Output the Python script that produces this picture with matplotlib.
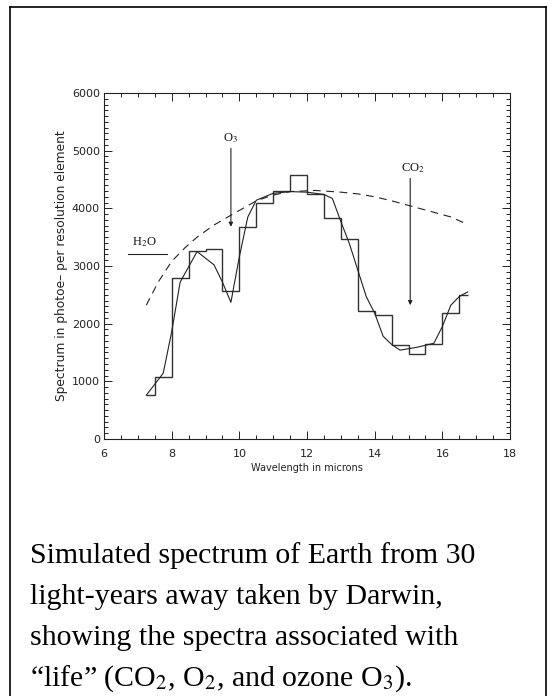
import matplotlib
matplotlib.use('Agg')
import matplotlib.pyplot as plt
from matplotlib.ticker import MultipleLocator

# binned spectrum (step histogram), edges and levels
bin_edges = [7.25, 7.5, 8.0, 8.5, 9.0, 9.5, 10.0, 10.5, 11.0, 11.5, 12.0,
             12.5, 13.0, 13.5, 14.0, 14.5, 15.0, 15.5, 16.0, 16.5, 16.75]
bin_vals = [770, 1080, 2790, 3260, 3290, 2560, 3670, 4100, 4300, 4580,
            4250, 3830, 3460, 2220, 2150, 1630, 1470, 1650, 2190, 2500]

# full resolution spectrum
wl = [7.25, 7.75, 8.0, 8.25, 8.75, 9.25, 9.5, 9.75, 10.0, 10.25, 10.5,
      11.0, 11.5, 12.0, 12.5, 12.75, 13.0, 13.25, 13.5, 13.75, 14.0, 14.25,
      14.5, 14.75, 15.25, 15.75, 16.0, 16.25, 16.5, 16.75]
spec = [760, 1140, 1860, 2720, 3250, 3020, 2720, 2370, 3160, 3850, 4140,
        4260, 4290, 4280, 4240, 4170, 3770, 3390, 2930, 2470, 2180, 1780,
        1640, 1540, 1590, 1660, 1950, 2320, 2470, 2550]

# continuum (no absorption), dashed
wl_cont = [7.25, 7.6, 8.0, 8.4, 8.75, 9.25, 9.75, 10.5, 11.0, 11.5, 12.25,
           13.0, 13.5, 14.0, 14.5, 15.0, 15.5, 16.25, 16.75]
cont = [2320, 2720, 3080, 3320, 3500, 3710, 3880, 4130, 4230, 4290, 4310,
        4280, 4250, 4200, 4130, 4050, 3970, 3850, 3720]

caption = ["Simulated spectrum of Earth from 30",
           "light-years away taken by Darwin,",
           "showing the spectra associated with",
           "\u201clife\u201d (CO$_2$, O$_2$, and ozone O$_3$)."]

fig = plt.figure(figsize=(5.53, 6.96), dpi=100)
ax = fig.add_axes([0.1881, 0.3693, 0.7342, 0.4971])

ax.stairs(bin_vals, bin_edges, color='#333333', lw=1.0, baseline=None)
ax.plot(wl, spec, color='#222222', lw=0.8)
ax.plot(wl_cont, cont, color='#222222', lw=0.8, ls=(0, (7, 5)))

# line markers
serif = dict(fontsize=9, family='Liberation Serif', math_fontfamily='stix',
             ha='center', va='center', color='#111111')
ax.annotate('', xy=(9.75, 3680), xytext=(9.75, 5040),
            arrowprops=dict(arrowstyle='-|>', color='#222222', lw=0.8,
                            mutation_scale=6, shrinkA=0, shrinkB=0))
ax.text(9.75, 5220, 'O$_3$', **serif)
ax.annotate('', xy=(15.05, 2320), xytext=(15.05, 4520),
            arrowprops=dict(arrowstyle='-|>', color='#222222', lw=0.8,
                            mutation_scale=6, shrinkA=0, shrinkB=0))
ax.text(15.12, 4690, 'CO$_2$', **serif)
ax.plot([6.7, 7.85], [3210, 3210], color='#222222', lw=0.8)
ax.text(7.2, 3420, 'H$_2$O', **serif)

ax.set_xlim(6, 18)
ax.set_ylim(0, 6000)
ax.xaxis.set_major_locator(MultipleLocator(2))
ax.xaxis.set_minor_locator(MultipleLocator(0.5))
ax.yaxis.set_major_locator(MultipleLocator(1000))
ax.yaxis.set_minor_locator(MultipleLocator(100))
ax.tick_params(which='both', direction='in', top=True, right=True,
               labelsize=8, colors='#222222', width=0.7)
ax.tick_params(axis='x', pad=7)
ax.tick_params(axis='y', pad=3)
ax.tick_params(which='major', length=6)
ax.tick_params(which='minor', length=3)
for s in ax.spines.values():
    s.set_linewidth(0.8)
    s.set_color('#222222')
ax.set_xlabel('Wavelength in microns', fontsize=7, color='#222222', labelpad=3)
ax.set_ylabel('Spectrum in photoe\u2013 per resolution element', fontsize=8.8,
              color='#222222', labelpad=3)

# outer frame of the slide
for xs, ys in [([0.018, 0.018], [0, 0.99]), ([0.018, 0.987], [0.99, 0.99]),
               ([0.987, 0.987], [0, 0.99])]:
    fig.add_artist(plt.Line2D(xs, ys, color='black', lw=1.2,
                              transform=fig.transFigure))

for i, line in enumerate(caption):
    fig.text(0.054, 1 - (556 + 41 * i) / 696, line, fontsize=21.5,
             family='Liberation Serif', math_fontfamily='stix',
             va='center', ha='left')

fig.savefig('out.png', dpi=100)
